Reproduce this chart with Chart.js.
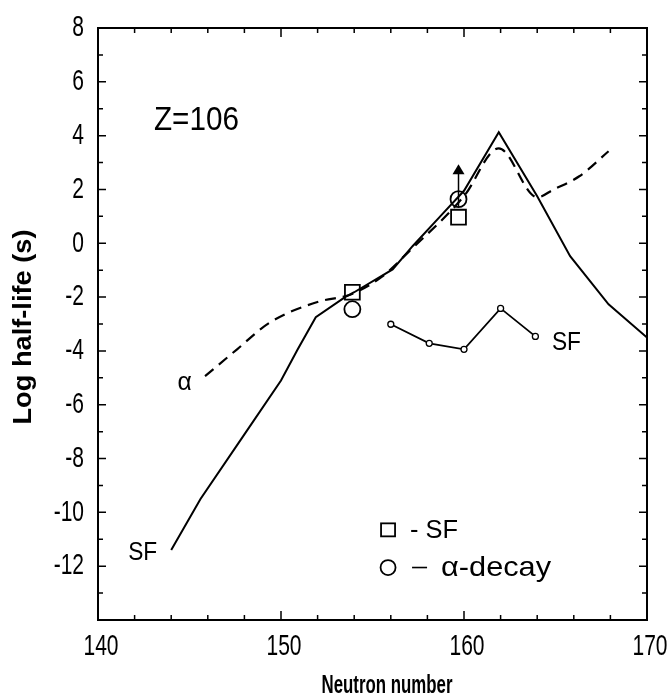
<!DOCTYPE html>
<html>
<head>
<meta charset="utf-8">
<script src="https://cdn.jsdelivr.net/npm/chart.js@4"></script>
<style>
  html, body { margin: 0; padding: 0; background: #fff; }
  #wrap { width: 671px; height: 697px; }
</style>
</head>
<body>
<div id="wrap"><canvas id="c" width="671" height="697"></canvas></div>
<script>
// ---- data ----
const sfTheoryN   = [144, 145.6, 148, 150, 150.9, 151.9, 153.5, 154, 156.1, 157.2, 158.7, 160, 161.9, 164, 165.8, 167.9, 170];
const sfTheoryLog = [-11.4, -9.5, -7.1, -5.1, -3.96, -2.75, -2.0, -1.82, -0.97, -0.1, 1.0, 1.95, 4.13, 1.75, -0.48, -2.27, -3.5];

const alphaTheoryN   = [145.85, 147.6, 149.4, 152.1, 153.5, 154, 155.5, 157, 160, 161.9, 164, 164.9, 166.3, 167.9];
const alphaTheoryLog = [-4.94, -3.94, -2.94, -2.16, -1.97, -1.85, -1.25, -0.3, 1.75, 3.53, 1.71, 2.0, 2.49, 3.42];

const sfOtherN   = [156, 158.1, 160, 162, 163.9];
const sfOtherLog = [-3.01, -3.72, -3.94, -2.42, -3.46];

const expSfN   = [153.9, 159.7];
const expSfLog = [-1.82, 0.97];

const expAlphaN   = [153.9, 159.7];
const expAlphaLog = [-2.45, 1.64];

// lower-limit arrow on the alpha point at N=160
const limitN = [159.7];
const limitFrom = [1.35];
const limitTo = [2.94];

const xMin = 140, xMax = 170, yMin = -14, yMax = 8;
const yTickLabels = [8, 6, 4, 2, 0, -2, -4, -6, -8, -10, -12];
const xTickLabels = [140, 150, 160, 170];

const xTitle = 'Neutron number';
const yTitle = 'Log half-life (s)';

const FONT = '"Liberation Sans", Arial, sans-serif';

function pts(xs, ys) { return xs.map((x, i) => ({ x: x, y: ys[i] })); }

// draw text horizontally condensed/stretched (sx) or fitted to a width
function txt(ctx, s, x, y, size, opt) {
  opt = opt || {};
  ctx.save();
  ctx.font = (opt.bold ? 'bold ' : '') + size + 'px ' + FONT;
  ctx.textBaseline = 'middle';
  ctx.textAlign = opt.align || 'center';
  let sx = opt.sx || 1;
  if (opt.width) sx = opt.width / ctx.measureText(s).width;
  ctx.translate(x, y);
  if (opt.rot) ctx.rotate(opt.rot);
  ctx.scale(sx, 1);
  ctx.fillText(s, 0, 0);
  ctx.restore();
}

const overlay = {
  id: 'overlay',
  afterDraw(chart) {
    const ctx = chart.ctx, a = chart.chartArea;
    const xs = chart.scales.x, ys = chart.scales.y;
    ctx.save();
    ctx.strokeStyle = '#000';
    ctx.fillStyle = '#000';
    // frame
    ctx.lineWidth = 2;
    ctx.strokeRect(a.left, a.top, a.right - a.left, a.bottom - a.top);
    // inward ticks
    ctx.lineWidth = 1.5;
    ctx.beginPath();
    for (let v = xMin; v <= xMax; v += 2) {
      const px = xs.getPixelForValue(v);
      const len = (v % 10 === 0) ? 9 : 5;
      ctx.moveTo(px, a.bottom); ctx.lineTo(px, a.bottom - len);
      ctx.moveTo(px, a.top); ctx.lineTo(px, a.top + len);
    }
    for (let v = yMin; v <= yMax; v += 1) {
      const py = ys.getPixelForValue(v);
      const len = (v % 2 === 0) ? 8 : 5;
      ctx.moveTo(a.left, py); ctx.lineTo(a.left + len, py);
      ctx.moveTo(a.right, py); ctx.lineTo(a.right - len, py);
    }
    ctx.stroke();
    // tick labels
    yTickLabels.forEach(v => txt(ctx, String(v), a.left - 14, ys.getPixelForValue(v), 30, { align: 'right', sx: 0.7 }));
    xTickLabels.forEach(v => txt(ctx, String(v), xs.getPixelForValue(v) + 3, a.bottom + 27, 30, { sx: 0.7 }));
    // axis titles
    txt(ctx, xTitle, 387, 686, 26, { bold: true, width: 131 });
    txt(ctx, yTitle, 24, 327, 25, { bold: true, width: 195, rot: -Math.PI / 2 });
    // arrow (lower limit)
    ctx.lineWidth = 1.5;
    for (let i = 0; i < limitN.length; i++) {
      const px = xs.getPixelForValue(limitN[i]);
      const p0 = ys.getPixelForValue(limitFrom[i]);
      const p1 = ys.getPixelForValue(limitTo[i]);
      ctx.beginPath();
      ctx.moveTo(px, p0); ctx.lineTo(px, p1 + 8);
      ctx.stroke();
      ctx.beginPath();
      ctx.moveTo(px, p1); ctx.lineTo(px - 6, p1 + 10); ctx.lineTo(px + 6, p1 + 10);
      ctx.closePath(); ctx.fill();
    }
    // text annotations
    txt(ctx, 'Z=106', xs.getPixelForValue(145.38), ys.getPixelForValue(4.55), 33, { width: 85 });
    txt(ctx, 'α', xs.getPixelForValue(144.73), ys.getPixelForValue(-5.2), 26, { sx: 0.95 });
    txt(ctx, 'SF', xs.getPixelForValue(142.44), ys.getPixelForValue(-11.52), 25, { width: 29 });
    txt(ctx, 'SF', xs.getPixelForValue(165.6), ys.getPixelForValue(-3.7), 26, { width: 29 });
    // legend
    const lx = xs.getPixelForValue(155.85);
    const ly1 = ys.getPixelForValue(-10.65);
    const ly2 = ys.getPixelForValue(-12.05);
    ctx.lineWidth = 1.8;
    ctx.strokeRect(lx - 7, ly1 - 6.5, 14, 13);
    ctx.beginPath(); ctx.arc(lx, ly2, 7.5, 0, Math.PI * 2); ctx.stroke();
    txt(ctx, '- SF', lx + 22, ly1 + 1, 26, { align: 'left', width: 48 });
    ctx.lineWidth = 1.6;
    ctx.beginPath(); ctx.moveTo(lx + 24, ly2); ctx.lineTo(lx + 39, ly2); ctx.stroke();
    txt(ctx, 'α-decay', lx + 53, ly2 + 1, 28, { align: 'left', width: 110 });
    ctx.restore();
  }
};

new Chart(document.getElementById('c'), {
  type: 'scatter',
  data: {
    datasets: [
      { label: 'SF theory', data: pts(sfTheoryN, sfTheoryLog), showLine: true,
        borderColor: '#000', borderWidth: 2, pointRadius: 0, tension: 0 },
      { label: 'alpha theory', data: pts(alphaTheoryN, alphaTheoryLog), showLine: true,
        borderColor: '#000', borderWidth: 2.2, borderDash: [11, 7], pointRadius: 0,
        cubicInterpolationMode: 'monotone' },
      { label: 'SF other', data: pts(sfOtherN, sfOtherLog), showLine: true,
        borderColor: '#000', borderWidth: 1.8, pointRadius: 3, pointBackgroundColor: '#fff',
        pointBorderColor: '#000', pointBorderWidth: 1.3, tension: 0 },
      { label: 'exp SF', data: pts(expSfN, expSfLog), showLine: false,
        pointStyle: 'rect', pointRadius: 10.5, pointBackgroundColor: 'rgba(255,255,255,0)',
        pointBorderColor: '#000', pointBorderWidth: 1.8 },
      { label: 'exp alpha', data: pts(expAlphaN, expAlphaLog), showLine: false,
        pointStyle: 'circle', pointRadius: 8, pointBackgroundColor: 'rgba(255,255,255,0)',
        pointBorderColor: '#000', pointBorderWidth: 1.8 }
    ]
  },
  options: {
    responsive: false,
    animation: false,
    devicePixelRatio: 1,
    layout: { padding: { left: 0, right: 24, top: 28, bottom: 0 } },
    plugins: { legend: { display: false }, tooltip: { enabled: false } },
    scales: {
      x: {
        type: 'linear', min: xMin, max: xMax,
        afterBuildTicks(s) { s.ticks = xTickLabels.map(v => ({ value: v })); },
        afterFit(s) { s.height = 77; },
        grid: { display: false, drawTicks: false },
        border: { display: false },
        ticks: { display: false },
        title: { display: false, text: xTitle }
      },
      y: {
        type: 'linear', min: yMin, max: yMax,
        afterBuildTicks(s) { s.ticks = yTickLabels.map(v => ({ value: v })); },
        afterFit(s) { s.width = 98; },
        grid: { display: false, drawTicks: false },
        border: { display: false },
        ticks: { display: false },
        title: { display: false, text: yTitle }
      }
    }
  },
  plugins: [overlay]
});
</script>
</body>
</html>
